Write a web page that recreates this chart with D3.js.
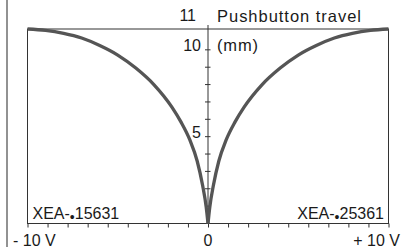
<!DOCTYPE html>
<meta charset="utf-8">
<style>
    body { margin: 0; background: #fff; }
    svg text { font-family: "Liberation Sans", Arial, sans-serif; fill: #1a1a1a; }
    .frame { fill: none; stroke: #333; stroke-width: 1; }
    .curve { fill: none; stroke: #555; stroke-width: 3.3px; stroke-linejoin: round; }
    .axis path, .axis line { stroke: #333; }
</style>
<body>
<svg width="403" height="247"></svg>
<script src="https://d3js.org/d3.v7.min.js"></script>
<script>

    // control voltage (V) vs pushbutton travel (mm)
    var voltsLeft  = [-10, -9, -8, -7, -6, -5, -4, -3, -2, -1.5, -1, -0.6, -0.3, -0.1, 0];
    var travelLeft = [11.2, 11.12, 10.95, 10.68, 10.25, 9.7, 8.95, 8.0, 6.7, 5.85, 4.8, 3.6, 2.2, 0.95, 0];
    var voltsRight  = [0, 0.1, 0.3, 0.6, 1, 1.5, 2, 3, 4, 5, 6, 7, 8, 9, 10];
    var travelRight = [0, 0.95, 2.2, 3.6, 4.8, 5.85, 6.7, 8.0, 8.95, 9.7, 10.25, 10.68, 10.95, 11.12, 11.2];

    var yTicks = [1, 2, 3, 4, 5, 6, 7, 8, 9, 10];
    var yLabels = [5, 10];
    var xLabels = ["- 10 V", "0", "+ 10 V"];
    var partLeft = ["XEA-", "•", "15631"];
    var partRight = ["XEA-", "•", "25361"];

    var svg = d3.select("svg");

    var x = d3.scaleLinear().domain([-10, 10]).range([27.5, 388.5]),
        y = d3.scaleLinear().domain([0, 11.2]).range([223.5, 29]);

    // 9 tick intervals on each side of zero
    var xTicks = d3.range(19).map(function(i) { return -10 + i * 20 / 18; });

    // left border line
    svg.append("line")
        .attr("x1", 7).attr("x2", 7)
        .attr("y1", 0).attr("y2", 247)
        .attr("stroke", "#777")
        .attr("stroke-width", 1.6);

    // plot frame
    svg.append("rect")
        .attr("class", "frame")
        .attr("x", x(-10)).attr("y", y(11.2))
        .attr("width", x(10) - x(-10))
        .attr("height", y(0) - y(11.2));

    // bottom axis ticks
    svg.append("g")
        .attr("class", "axis")
        .attr("transform", "translate(0," + y(0) + ")")
        .call(d3.axisBottom(x).tickValues(xTicks).tickSize(4).tickSizeOuter(0).tickFormat(""))
        .call(function(g) { g.select(".domain").remove(); });

    // vertical axis at zero
    svg.append("line")
        .attr("x1", x(0)).attr("x2", x(0))
        .attr("y1", y(11.2) - 4).attr("y2", y(0))
        .attr("stroke", "#333");

    svg.selectAll(".ytick")
        .data(yTicks)
        .enter().append("line")
        .attr("class", "ytick")
        .attr("x1", x(0) - 3).attr("x2", x(0) + 2.5)
        .attr("y1", function(d) { return y(d); })
        .attr("y2", function(d) { return y(d); })
        .attr("stroke", "#333");

    svg.selectAll(".ylab")
        .data(yLabels)
        .enter().append("text")
        .attr("class", "ylab")
        .attr("x", x(0) - 7)
        .attr("y", function(d) { return y(d) + 1; })
        .attr("text-anchor", "end")
        .style("font-size", "16px")
        .text(function(d) { return d; });

    svg.append("text")
        .attr("x", x(0) - 12)
        .attr("y", 21)
        .attr("text-anchor", "end")
        .style("font-size", "16px")
        .text("11");

    svg.append("text")
        .attr("x", 217).attr("y", 21.5)
        .attr("textLength", 144)
        .attr("lengthAdjust", "spacing")
        .style("font-size", "16.5px")
        .text("Pushbutton travel");

    svg.append("text")
        .attr("x", 217).attr("y", 51)
        .attr("textLength", 41)
        .attr("lengthAdjust", "spacing")
        .style("font-size", "16.5px")
        .text("(mm)");

    // curve, one path per half so the cusp at zero stays sharp
    var line = d3.line()
        .x(function(d) { return x(d[0]); })
        .y(function(d) { return y(d[1]); })
        .curve(d3.curveMonotoneX);

    svg.append("path")
        .attr("class", "curve")
        .attr("d", line(d3.zip(voltsLeft, travelLeft)));

    svg.append("path")
        .attr("class", "curve")
        .attr("d", line(d3.zip(voltsRight, travelRight)));

    // part numbers
    function partLabel(parts, px, anchor) {
        var t = svg.append("text")
            .attr("x", px).attr("y", 219)
            .attr("text-anchor", anchor)
            .style("font-size", "16px");
        t.append("tspan").text(parts[0]);
        t.append("tspan").attr("dy", 2.5).style("font-size", "14px").text(parts[1]);
        t.append("tspan").attr("dy", -2.5).text(parts[2]);
    }
    partLabel(partLeft, 32.5, "start");
    partLabel(partRight, 384, "end");

    // x labels
    var xLabelPos = [[13, "start"], [x(0), "middle"], [400, "end"]];
    svg.selectAll(".xlab")
        .data(xLabels)
        .enter().append("text")
        .attr("class", "xlab")
        .attr("x", function(d, i) { return xLabelPos[i][0]; })
        .attr("y", 245.5)
        .attr("text-anchor", function(d, i) { return xLabelPos[i][1]; })
        .style("font-size", "16px")
        .text(function(d) { return d; });

</script>
</body>
